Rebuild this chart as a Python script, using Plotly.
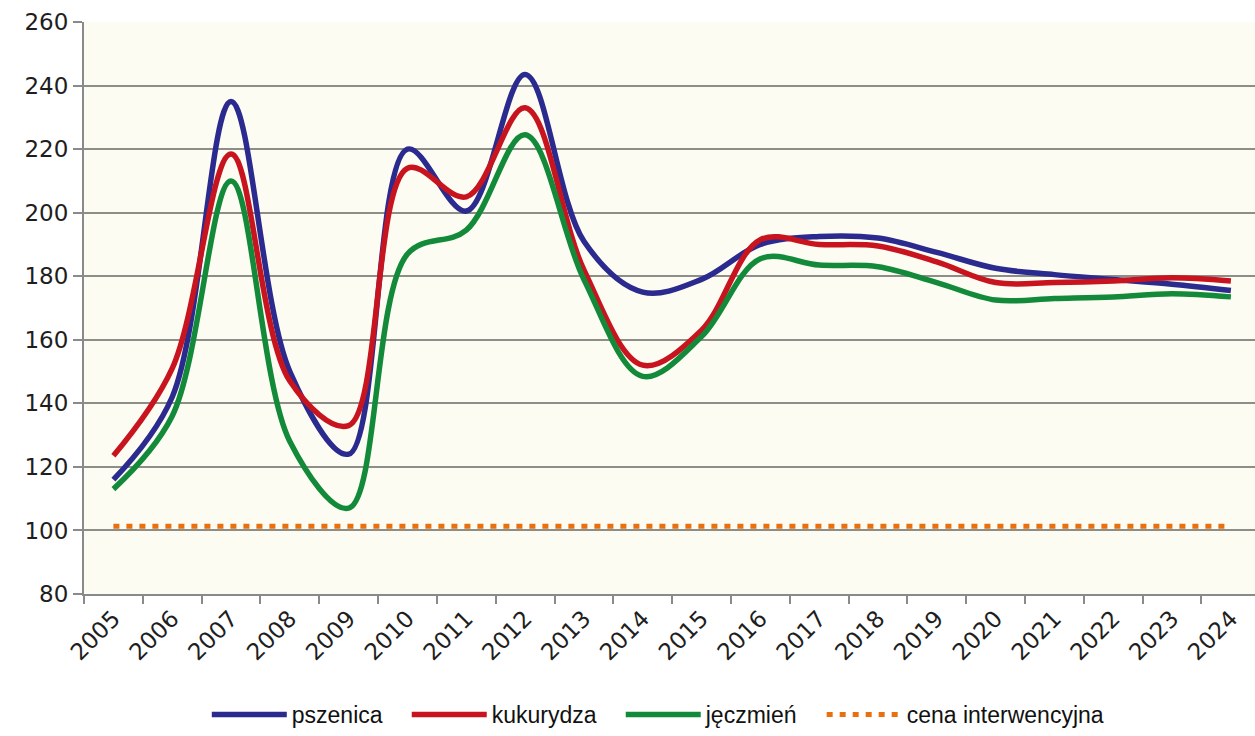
import plotly.graph_objects as go

# Roczne ceny zbóż (EUR/t) w latach 2005-2024
lata = [str(r) for r in range(2005, 2025)]

pszenica = [116, 142, 235, 150, 124, 220, 200.5, 243.5, 191, 175, 179, 190,
            192.5, 192, 187.5, 182.5, 180.5, 179, 177.5, 175.5]
kukurydza = [123.5, 151, 218.5, 147, 133, 214, 205, 233, 182, 152, 163, 191.5,
             190, 189.5, 184.5, 178, 178, 178.5, 179.5, 178.5]
jeczmien = [113, 136, 210, 128, 107, 187, 194.5, 224.5, 179, 148.5, 161, 185.5,
            183.5, 183, 178, 172.5, 173, 173.5, 174.5, 173.5]
cena_interwencyjna = [101.31] * len(lata)

# odstęp między pozycjami legendy (spacje niełamliwe)
ODSTEP = "\u00a0" * 3

serie = [
    ("pszenica", pszenica, "#2B2A8E"),
    ("kukurydza", kukurydza, "#C8141E"),
    ("jęczmień", jeczmien, "#138A3A"),
]

fig = go.Figure()
for nazwa, wartosci, kolor in serie:
    fig.add_trace(go.Scatter(
        x=lata, y=wartosci, name=nazwa + ODSTEP, mode="lines",
        line=dict(color=kolor, width=5.5, shape="spline", smoothing=1.0),
    ))

fig.add_trace(go.Scatter(
    x=lata, y=cena_interwencyjna, name="cena interwencyjna", mode="lines",
    line=dict(color="#E8700F", width=5, dash="6px,7px"),
))

tick_font = dict(family="DejaVu Sans, Verdana, sans-serif", size=23, color="#1E1E1E")

fig.update_layout(
    width=1255, height=736,
    margin=dict(l=84, r=0, t=22, b=136),
    paper_bgcolor="white",
    plot_bgcolor="#FCFCF2",
    showlegend=True,
    legend=dict(
        orientation="h",
        x=0.49, xanchor="center",
        y=-0.211, yanchor="middle",
        font=dict(family="Liberation Sans, Arial, sans-serif", size=23, color="#111111"),
        itemwidth=75,
        bgcolor="rgba(0,0,0,0)",
    ),
)

fig.update_xaxes(
    type="category",
    range=[-0.5, 19.41],
    tickson="boundaries",
    ticks="outside", ticklen=8, tickwidth=2, tickcolor="#8A8A8A",
    tickangle=-45,
    tickfont=tick_font,
    showgrid=False,
    showline=True, linecolor="#8A8A8A", linewidth=2,
    zeroline=False,
    automargin=False,
)

fig.update_yaxes(
    range=[80, 260],
    dtick=20, tick0=80,
    ticks="outside", ticklen=9, tickwidth=2, tickcolor="#8A8A8A",
    tickfont=tick_font,
    showgrid=True, gridcolor="#8E8E88", gridwidth=2,
    showline=True, linecolor="#8A8A8A", linewidth=2,
    zeroline=False,
    automargin=False,
)

fig.write_html("out.html")
